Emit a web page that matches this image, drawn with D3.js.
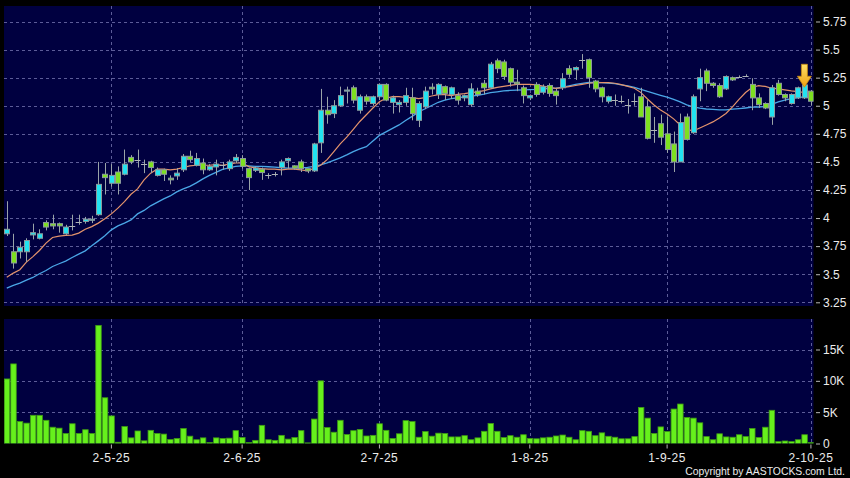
<!DOCTYPE html>
<html><head><meta charset="utf-8">
<script src="https://cdn.jsdelivr.net/npm/d3@7"></script>
<style>html,body{margin:0;padding:0;background:#000;}svg{display:block}</style>
</head><body>
<svg id="chart" width="850" height="478"></svg>
<script>
// ---- data ----
const openP = [3.86,3.70,3.70,3.70,3.85,3.82,3.96,3.95,3.95,3.86,3.93,3.965,3.97,3.98,4.03,4.39,4.31,4.41,4.39,4.54,
4.52,4.48,4.50,4.38,4.43,4.355,4.375,4.43,4.55,4.47,4.49,4.43,4.455,4.47,4.44,4.51,4.53,4.44,4.425,4.435,
4.385,4.39,4.45,4.51,4.465,4.50,4.44,4.42,4.67,4.96,4.93,5.00,5.13,5.16,4.96,5.08,5.02,5.08,5.19,5.03,
5.01,5.03,5.07,4.87,4.99,5.165,5.10,5.17,5.10,5.09,5.07,5.01,5.13,5.20,5.16,5.40,5.39,5.33,5.21,5.16,
5.07,5.19,5.12,5.18,5.13,5.16,5.33,5.32,5.41,5.41,5.22,5.16,5.04,5.05,5.045,5.01,5.04,5.08,4.99,4.785,
4.84,4.75,4.66,4.50,4.90,4.76,5.15,5.31,5.20,5.18,5.15,5.25,5.26,5.265,5.19,5.07,5.02,4.90,5.20,5.10,
5.02,5.07,5.07,5.13];
const highP = [4.15,3.86,3.79,3.82,3.95,3.90,3.98,4.03,3.96,3.94,4.03,4.03,4.01,4.02,4.50,4.49,4.48,4.46,4.61,4.56,
4.61,4.52,4.51,4.45,4.44,4.38,4.445,4.57,4.60,4.58,4.53,4.48,4.52,4.50,4.52,4.57,4.56,4.45,4.46,4.45,
4.40,4.41,4.52,4.54,4.47,4.52,4.44,4.67,5.15,5.08,5.05,5.17,5.17,5.18,5.10,5.10,5.09,5.20,5.20,5.09,
5.05,5.16,5.16,5.04,5.17,5.20,5.20,5.18,5.17,5.12,5.10,5.20,5.16,5.23,5.39,5.42,5.41,5.34,5.32,5.18,
5.10,5.21,5.19,5.20,5.15,5.29,5.36,5.35,5.46,5.42,5.23,5.17,5.09,5.10,5.09,5.06,5.11,5.16,5.05,4.90,
4.92,4.90,4.77,4.93,4.93,5.10,5.33,5.33,5.21,5.20,5.27,5.26,5.27,5.28,5.245,5.11,5.03,5.185,5.23,5.11,
5.11,5.17,5.20,5.14];
const lowP = [3.84,3.55,3.64,3.61,3.81,3.81,3.89,3.90,3.87,3.85,3.89,3.94,3.95,3.955,4.02,4.21,4.28,4.21,4.38,4.48,
4.45,4.40,4.40,4.37,4.33,4.30,4.34,4.41,4.50,4.46,4.39,4.42,4.38,4.43,4.42,4.49,4.44,4.25,4.41,4.34,
4.35,4.37,4.38,4.44,4.43,4.41,4.40,4.41,4.58,4.84,4.89,4.99,5.02,5.02,4.93,5.01,5.00,5.05,5.04,4.93,
4.94,5.00,4.87,4.81,4.97,5.10,5.06,5.05,5.06,5.01,5.04,4.99,5.08,5.10,5.15,5.29,5.23,5.17,5.13,5.02,
5.05,5.08,5.10,5.08,5.01,5.14,5.25,5.23,5.33,5.16,5.12,5.03,5.02,5.00,5.02,4.93,5.00,4.90,4.70,4.67,
4.65,4.58,4.41,4.50,4.69,4.75,5.04,5.13,5.16,5.07,5.14,5.22,5.25,5.26,4.96,4.98,4.97,4.83,5.09,5.04,
5.01,5.06,5.06,5.00];
const closeP = [3.90,3.60,3.74,3.80,3.87,3.86,3.92,3.93,3.93,3.92,3.93,3.965,3.99,3.99,4.30,4.36,4.38,4.31,4.48,4.50,
4.52,4.48,4.45,4.43,4.39,4.34,4.40,4.55,4.52,4.53,4.43,4.46,4.48,4.47,4.50,4.54,4.46,4.36,4.445,4.405,
4.385,4.39,4.50,4.53,4.445,4.44,4.42,4.66,4.96,4.92,5.00,5.09,5.14,5.05,5.08,5.04,5.08,5.19,5.05,5.07,
5.03,5.09,4.93,5.02,5.13,5.15,5.19,5.11,5.16,5.05,5.09,5.15,5.10,5.16,5.37,5.33,5.26,5.21,5.195,5.09,
5.09,5.10,5.17,5.11,5.09,5.24,5.28,5.34,5.41,5.25,5.15,5.08,5.08,5.05,5.045,5.01,5.04,4.90,4.71,4.785,
4.72,4.61,4.50,4.85,4.70,5.08,5.25,5.20,5.18,5.08,5.26,5.23,5.26,5.265,5.07,5.01,4.98,5.16,5.10,5.07,
5.10,5.16,5.185,5.04];
// moving averages (orange = short, blue = long)
const maShort = [3.474,3.51,3.54,3.608,3.657,3.711,3.777,3.827,3.839,3.845,3.848,3.866,3.901,3.924,3.955,3.993,4.037,4.088,4.147,4.212,
4.26,4.34,4.40,4.435,4.435,4.429,4.435,4.45,4.464,4.47,4.47,4.47,4.475,4.47,4.48,4.49,4.49,4.458,4.447,4.44,
4.435,4.435,4.429,4.435,4.435,4.429,4.42,4.444,4.47,4.52,4.59,4.66,4.72,4.79,4.86,4.92,4.98,5.035,5.067,5.081,
5.081,5.075,5.072,5.063,5.072,5.087,5.099,5.099,5.09,5.102,5.108,5.117,5.123,5.134,5.15,5.164,5.173,5.182,5.191,5.191,
5.191,5.185,5.176,5.164,5.155,5.161,5.17,5.18,5.19,5.20,5.205,5.205,5.205,5.20,5.188,5.173,5.156,5.117,5.06,5.007,
4.963,4.927,4.883,4.829,4.79,4.776,4.802,4.829,4.856,4.891,4.931,4.99,5.056,5.118,5.163,5.179,5.172,5.156,5.15,5.141,
5.132,5.126,5.118,5.111];
const maLong = [3.376,3.40,3.421,3.448,3.471,3.504,3.533,3.569,3.593,3.617,3.649,3.679,3.708,3.753,3.797,3.842,3.895,3.93,3.955,3.984,
4.037,4.068,4.109,4.14,4.171,4.197,4.233,4.26,4.282,4.313,4.349,4.38,4.407,4.433,4.447,4.46,4.464,4.464,4.461,4.46,
4.457,4.453,4.448,4.444,4.444,4.447,4.451,4.46,4.473,4.491,4.513,4.536,4.562,4.592,4.616,4.636,4.687,4.736,4.767,4.798,
4.829,4.869,4.905,4.945,4.973,5.002,5.031,5.049,5.063,5.071,5.078,5.085,5.093,5.103,5.116,5.124,5.132,5.136,5.139,5.141,
5.143,5.145,5.149,5.154,5.156,5.163,5.176,5.19,5.20,5.207,5.207,5.205,5.201,5.196,5.185,5.176,5.163,5.145,5.127,5.111,
5.093,5.076,5.056,5.034,5.007,4.989,4.978,4.971,4.967,4.963,4.964,4.969,4.974,4.98,4.987,4.989,4.992,5.012,5.034,5.049,
5.063,5.072,5.08,5.087];
// volume in shares (thousands)
const volumeK = [10.3,12.7,3.5,3.25,4.5,4.5,3.7,2.6,2.45,1.6,3.15,1.6,2.2,1.6,18.85,7.3,4.4,0.2,2.7,0.9,
2.0,0.43,2.1,1.6,1.5,0.64,0.8,2.4,1.17,0.6,0.9,0.16,0.9,0.8,0.85,2.05,0.95,0.15,0.5,2.9,
0.6,0.5,1.3,0.7,0.95,2.05,0.1,3.9,10.0,2.55,1.8,3.7,1.43,2.05,2.25,1.2,1.3,3.15,2.1,0.8,
1.55,3.65,3.5,1.0,1.9,1.17,1.65,1.6,1.05,1.05,1.25,0.6,0.9,1.95,3.2,1.95,0.95,1.25,1.0,1.4,
0.8,0.75,0.9,1.0,1.2,1.35,1.0,0.6,2.05,1.95,1.25,1.7,1.15,1.0,0.75,0.75,1.1,5.75,4.05,1.6,
2.65,1.9,5.5,6.3,4.15,4.05,3.3,1.1,0.6,1.55,1.05,1.0,1.4,1.1,2.4,0.95,2.6,5.3,0.3,0.4,
0.3,0.6,1.4,0.15];
// x-axis tick labels (bar index -> label)
const xTickIdx = [16,36,57,80,101,123];
const xTickLabels = ["2-5-25","2-6-25","2-7-25","1-8-25","1-9-25","2-10-25"];
const priceTicks = [3.25,3.5,3.75,4,4.25,4.5,4.75,5,5.25,5.5,5.75];
const volTicks = [0,5000,10000,15000];
const markIndex = 122; // bar marked by the arrow

// ---- layout ----
const N = openP.length;
const W = 850, H = 478;
const plotL = 4, plotR = 813.5;
const pTop = 6, pBot = 306;
const vTop = 319, vBot = 443.5;

const svg = d3.select("#chart");
svg.append("rect").attr("width", W).attr("height", H).attr("fill", "#000");

const defs = svg.append("defs");
defs.append("clipPath").attr("id","clipP").append("rect")
  .attr("x",plotL).attr("y",pTop).attr("width",plotR-plotL).attr("height",pBot-pTop);
defs.append("clipPath").attr("id","clipV").append("rect")
  .attr("x",plotL).attr("y",vTop).attr("width",plotR-plotL).attr("height",vBot-vTop);
const grad = defs.append("linearGradient").attr("id","arrowGrad").attr("x1","0").attr("x2","0").attr("y1","0").attr("y2","1");
grad.append("stop").attr("offset","0%").attr("stop-color","#ffe066");
grad.append("stop").attr("offset","100%").attr("stop-color","#f0a010");

const x = d3.scaleBand().domain(d3.range(N)).range([3.5, 814.2]).paddingInner(0.22).paddingOuter(0.11);
const cx = i => x(i) + x.bandwidth() / 2;
const yP = d3.scaleLinear().domain([3.25, 5.75]).range([302.3, 21.5]);
const yV = d3.scaleLinear().domain([0, 15000]).range([vBot, 349.5]);

// panel backgrounds
const bg = "#000040";
svg.append("rect").attr("x",plotL).attr("y",pTop).attr("width",plotR-plotL).attr("height",pBot-pTop).attr("fill",bg);
svg.append("rect").attr("x",plotL).attr("y",vTop).attr("width",plotR-plotL).attr("height",vBot-vTop).attr("fill",bg);

const gridColor = "#5c5c98";
const grid = svg.append("g").attr("stroke", gridColor).attr("stroke-width", 1)
  .attr("stroke-dasharray", "3,3").attr("shape-rendering","crispEdges");
grid.selectAll(".hp").data(priceTicks).join("line")
  .attr("x1", plotL).attr("x2", plotR).attr("y1", d => Math.round(yP(d))+0.5).attr("y2", d => Math.round(yP(d))+0.5);
grid.selectAll(".hv").data(volTicks.filter(d => d > 0)).join("line")
  .attr("x1", plotL).attr("x2", plotR).attr("y1", d => Math.round(yV(d))+0.5).attr("y2", d => Math.round(yV(d))+0.5);
grid.selectAll(".vp").data(xTickIdx).join("line")
  .attr("x1", d => Math.round(cx(d))+0.5).attr("x2", d => Math.round(cx(d))+0.5).attr("y1", pTop).attr("y2", pBot);
grid.selectAll(".vv").data(xTickIdx).join("line")
  .attr("x1", d => Math.round(cx(d))+0.5).attr("x2", d => Math.round(cx(d))+0.5).attr("y1", vTop).attr("y2", vBot);

// moving averages
const pricePlot = svg.append("g").attr("clip-path","url(#clipP)");
const line = d3.line().x((d,i) => cx(i)).y(d => yP(d));
pricePlot.append("path").datum(maLong).attr("d", line).attr("fill","none")
  .attr("stroke","#4aa6e6").attr("stroke-width",1.3);
pricePlot.append("path").datum(maShort).attr("d", line).attr("fill","none")
  .attr("stroke","#e4936c").attr("stroke-width",1.2);

// candles
const candles = d3.range(N).map(i => ({i, o: openP[i], h: highP[i], l: lowP[i], c: closeP[i]}));
const cg = pricePlot.append("g");
const wickCol = "#9aa4a8";
cg.selectAll(".wick").data(candles).join("line")
  .attr("x1", d => Math.round(cx(d.i))+0.5).attr("x2", d => Math.round(cx(d.i))+0.5)
  .attr("y1", d => yP(d.h)).attr("y2", d => yP(d.l))
  .attr("stroke", wickCol).attr("stroke-width", 1);
const bw = x.bandwidth();
cg.selectAll(".body").data(candles.filter(d => d.c !== d.o)).join("rect")
  .attr("x", d => Math.round(cx(d.i) - bw/2)+0.5)
  .attr("width", Math.round(bw))
  .attr("y", d => yP(Math.max(d.o, d.c)))
  .attr("height", d => Math.max(1, Math.abs(yP(d.o) - yP(d.c))))
  .attr("fill", d => d.c > d.o ? "#22e2f0" : "#7ee020")
  .attr("stroke", "#8c9a9c").attr("stroke-width", 1);
cg.selectAll(".doji").data(candles.filter(d => d.c === d.o)).join("line")
  .attr("x1", d => cx(d.i) - bw/2 - 0.5).attr("x2", d => cx(d.i) + bw/2 + 0.5)
  .attr("y1", d => Math.round(yP(d.c))+0.5).attr("y2", d => Math.round(yP(d.c))+0.5)
  .attr("stroke", "#b0b4b8").attr("stroke-width", 1);

// marker arrow
const ax = cx(markIndex), tip = yP(highP[markIndex]) + 4;
svg.append("path")
  .attr("d", `M${ax-3},${tip-23} L${ax+3},${tip-23} L${ax+3},${tip-11} L${ax+7},${tip-11} L${ax},${tip} L${ax-7},${tip-11} L${ax-3},${tip-11} Z`)
  .attr("fill","url(#arrowGrad)").attr("stroke","#c88a10").attr("stroke-width",0.8);

// volume bars
const volPlot = svg.append("g").attr("clip-path","url(#clipV)");
volPlot.selectAll("rect").data(volumeK).join("rect")
  .attr("x", (d,i) => x(i)).attr("width", bw + 0.4)
  .attr("y", d => yV(d*1000)).attr("height", d => vBot - yV(d*1000))
  .attr("fill", "#66f01c").attr("stroke", "#3f9a14").attr("stroke-width", 0.8);

// axes
const fontFam = "'Liberation Sans', Arial, sans-serif";
const fmtP = d => String(+d.toFixed(2));
const yAxis = d3.axisRight(yP).tickValues(priceTicks).tickFormat(fmtP).tickSize(4).tickPadding(3);
const ga = svg.append("g").attr("transform", `translate(816,0)`).call(yAxis);
const fmtV = d => d === 0 ? "0" : (d/1000) + "K";
const vAxis = d3.axisRight(yV).tickValues(volTicks).tickFormat(fmtV).tickSize(4).tickPadding(3);
const gv = svg.append("g").attr("transform", `translate(816,0)`).call(vAxis);
const xAxis = d3.axisBottom(x).tickValues(xTickIdx).tickFormat(d => xTickLabels[xTickIdx.indexOf(d)]).tickSize(4).tickPadding(5);
const gx = svg.append("g").attr("transform", `translate(0,${vBot+1})`).call(xAxis);
[ga, gv, gx].forEach(g => {
  g.select(".domain").remove();
  g.selectAll(".tick line").attr("stroke", "#b8b8b8");
  g.selectAll(".tick text").attr("fill", "#ececec").style("font-family", fontFam).style("font-size", "12px");
});
gx.selectAll(".tick text").style("letter-spacing","0.5px");

// copyright
svg.append("text").attr("x", 845).attr("y", 474.5).attr("text-anchor", "end")
  .attr("fill", "#ececec").style("font-family", fontFam).style("font-size", "10.4px")
  .text("Copyright by AASTOCKS.com Ltd.");
</script>
</body></html>
